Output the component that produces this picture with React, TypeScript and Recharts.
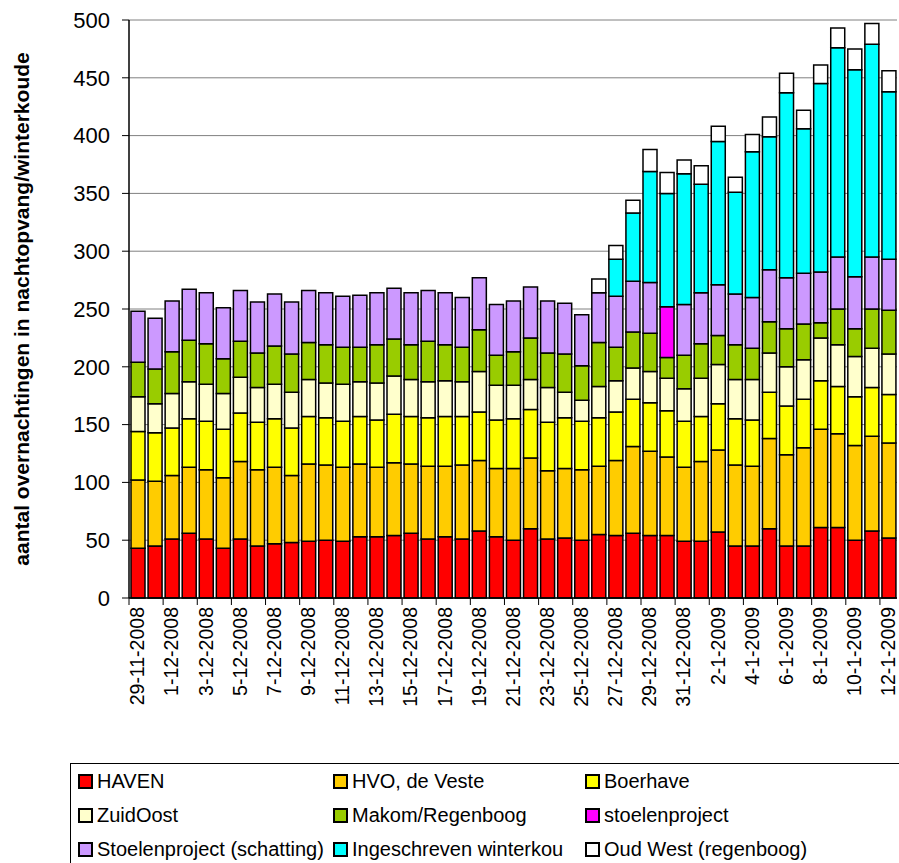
import { Bar, BarChart, CartesianGrid, XAxis, YAxis } from 'recharts'

const dates = [
  '29-11-2008', '30-11-2008', '1-12-2008', '2-12-2008', '3-12-2008', '4-12-2008',
  '5-12-2008', '6-12-2008', '7-12-2008', '8-12-2008', '9-12-2008', '10-12-2008',
  '11-12-2008', '12-12-2008', '13-12-2008', '14-12-2008', '15-12-2008', '16-12-2008',
  '17-12-2008', '18-12-2008', '19-12-2008', '20-12-2008', '21-12-2008', '22-12-2008',
  '23-12-2008', '24-12-2008', '25-12-2008', '26-12-2008', '27-12-2008', '28-12-2008',
  '29-12-2008', '30-12-2008', '31-12-2008', '1-1-2009', '2-1-2009', '3-1-2009',
  '4-1-2009', '5-1-2009', '6-1-2009', '7-1-2009', '8-1-2009', '9-1-2009',
  '10-1-2009', '11-1-2009', '12-1-2009',
]

const haven = [
  43, 45, 51, 56, 51, 43, 51, 45, 47, 48, 49, 50, 49, 53, 53, 54, 56, 51, 53, 51, 58, 53, 50,
  60, 51, 52, 50, 55, 54, 56, 54, 54, 49, 49, 57, 45, 45, 60, 45, 45, 61, 61, 50, 58, 52,
]
const hvo = [
  59, 56, 55, 57, 60, 61, 67, 66, 66, 58, 67, 65, 64, 63, 60, 63, 60, 63, 61, 64, 61, 59, 62,
  61, 59, 60, 61, 59, 65, 75, 73, 68, 64, 69, 71, 70, 69, 78, 79, 85, 85, 81, 82, 82, 82,
]
const boerhave = [
  42, 42, 41, 42, 42, 42, 42, 41, 42, 41, 41, 41, 40, 41, 41, 42, 41, 42, 43, 42, 42, 42, 43,
  42, 42, 44, 42, 42, 42, 41, 42, 40, 40, 39, 40, 40, 40, 40, 42, 42, 42, 41, 42, 42, 42,
]
const zuidOost = [
  30, 25, 30, 32, 32, 31, 31, 30, 30, 31, 32, 30, 32, 30, 32, 33, 32, 31, 31, 30, 35, 30, 29,
  26, 30, 22, 18, 27, 27, 27, 27, 28, 28, 33, 34, 34, 35, 34, 34, 34, 37, 36, 35, 34, 35,
]
const makom = [
  30, 30, 36, 36, 35, 30, 31, 30, 33, 33, 32, 33, 32, 30, 33, 32, 30, 35, 31, 30, 36, 26, 29,
  36, 30, 33, 30, 38, 29, 31, 33, 18, 29, 30, 25, 30, 27, 27, 33, 31, 13, 31, 24, 34, 38,
]
const stoelen = [
  0, 0, 0, 0, 0, 0, 0, 0, 0, 0, 0, 0, 0, 0, 0, 0, 0, 0, 0, 0, 0, 0, 0,
  0, 0, 0, 0, 0, 0, 0, 0, 44, 0, 0, 0, 0, 0, 0, 0, 0, 0, 0, 0, 0, 0,
]
const schatting = [
  44, 44, 44, 44, 44, 44, 44, 44, 45, 45, 45, 45, 44, 45, 45, 44, 45, 44, 45, 43, 45, 44, 44,
  44, 45, 44, 44, 43, 44, 44, 44, 0, 44, 44, 44, 44, 44, 45, 44, 44, 44, 45, 45, 45, 44,
]
const winterkou = [
  0, 0, 0, 0, 0, 0, 0, 0, 0, 0, 0, 0, 0, 0, 0, 0, 0, 0, 0, 0, 0, 0, 0,
  0, 0, 0, 0, 0, 32, 59, 96, 98, 113, 94, 124, 88, 126, 115, 160, 125, 163, 181, 179, 184, 145,
]
const oudWest = [
  0, 0, 0, 0, 0, 0, 0, 0, 0, 0, 0, 0, 0, 0, 0, 0, 0, 0, 0, 0, 0, 0, 0,
  0, 0, 0, 0, 12, 12, 11, 19, 18, 12, 16, 13, 13, 15, 17, 17, 16, 16, 17, 18, 18, 18,
]

const yTicks = [0, 50, 100, 150, 200, 250, 300, 350, 400, 450, 500]

const series = [
  { key: 'haven', name: 'HAVEN', color: '#FF0000', values: haven },
  { key: 'hvo', name: 'HVO, de Veste', color: '#FFCC00', values: hvo },
  { key: 'boerhave', name: 'Boerhave', color: '#FFFF00', values: boerhave },
  { key: 'zuidOost', name: 'ZuidOost', color: '#FFFFCC', values: zuidOost },
  { key: 'makom', name: 'Makom/Regenboog', color: '#99CC00', values: makom },
  { key: 'stoelen', name: 'stoelenproject', color: '#FF00FF', values: stoelen },
  { key: 'schatting', name: 'Stoelenproject (schatting)', color: '#CC99FF', values: schatting },
  { key: 'winterkou', name: 'Ingeschreven winterkou', color: '#00FFFF', values: winterkou },
  { key: 'oudWest', name: 'Oud West (regenboog)', color: '#FFFFFF', values: oudWest },
]

const data = dates.map((date, i) => {
  const row: Record<string, string | number> = { date }
  series.forEach((s) => {
    row[s.key] = s.values[i]
  })
  return row
})

const FONT = '"Liberation Sans", Arial, sans-serif'
const WIDTH = 899
const RIGHT = 2
const PLOT_LEFT = 129
const BAND = (WIDTH - RIGHT - PLOT_LEFT) / dates.length

// labels on every other day, tick marks between the bars like Excel does
function DateTick(props: any) {
  const { x, y, payload } = props
  if (payload.index % 2 === 1) return null
  const tx = x - BAND / 2
  return (
    <g>
      <line x1={tx} x2={tx} y1={y} y2={y + 7} stroke='#000' strokeWidth={1} />
      <text
        x={x}
        y={y + 9}
        dy='0.35em'
        transform={`rotate(-90 ${x} ${y + 9})`}
        textAnchor='end'
        fontSize={19.5}
        fontFamily={FONT}
        fill='#000'
      >
        {payload.value}
      </text>
    </g>
  )
}

function YTitle() {
  return (
    <text
      x={22}
      y={309}
      dy='0.35em'
      transform='rotate(-90 22 309)'
      textAnchor='middle'
      fontSize={21}
      fontWeight='bold'
      fontFamily={FONT}
      fill='#000'
    >
      aantal overnachtingen in nachtopvang/winterkoude
    </text>
  )
}

const legendCols = [7, 262, 514]

function LegendBox() {
  return (
    <div
      style={{
        position: 'absolute',
        left: 70,
        top: 763,
        width: 900,
        height: 120,
        borderLeft: '1px solid #000',
        borderTop: '1px solid #000',
        fontFamily: FONT,
        fontSize: 20,
        color: '#000',
      }}
    >
      {series.map((s, i) => (
        <div
          key={s.key}
          style={{
            position: 'absolute',
            left: legendCols[i % 3],
            top: 5 + Math.floor(i / 3) * 34,
            display: 'flex',
            alignItems: 'center',
            whiteSpace: 'nowrap',
            height: 24,
            lineHeight: '24px',
          }}
        >
          <span
            style={{
              display: 'inline-block',
              width: 11,
              height: 11,
              border: '2px solid #000',
              background: s.color,
              marginRight: 4,
            }}
          />
          {s.name}
        </div>
      ))}
    </div>
  )
}

export default function App() {
  return (
    <div
      style={{
        position: 'fixed',
        left: 0,
        top: 0,
        width: 899,
        height: 863,
        overflow: 'hidden',
        background: '#fff',
      }}
    >
      <BarChart
        width={WIDTH}
        height={880}
        data={data}
        margin={{ top: 20, right: RIGHT, left: 69, bottom: 162 }}
        barSize={14}
      >
        <CartesianGrid vertical={false} stroke='#808080' strokeWidth={1} />
        <XAxis
          dataKey='date'
          interval={0}
          height={120}
          tickSize={0}
          tickMargin={0}
          tickLine={false}
          axisLine={{ stroke: '#000', strokeWidth: 1.5 }}
          tick={<DateTick />}
        />
        <YAxis
          domain={[0, 500]}
          ticks={yTicks}
          width={60}
          tickSize={7}
          tickMargin={12}
          axisLine={{ stroke: '#000', strokeWidth: 1.5 }}
          tickLine={{ stroke: '#000' }}
          tick={{ fontSize: 22, fill: '#000', fontFamily: FONT }}
          label={<YTitle />}
        />
        {series.map((s) => (
          <Bar
            key={s.key}
            dataKey={s.key}
            name={s.name}
            stackId='a'
            fill={s.color}
            stroke='#000'
            strokeWidth={1.5}
            isAnimationActive={false}
          />
        ))}
      </BarChart>
      <LegendBox />
    </div>
  )
}
